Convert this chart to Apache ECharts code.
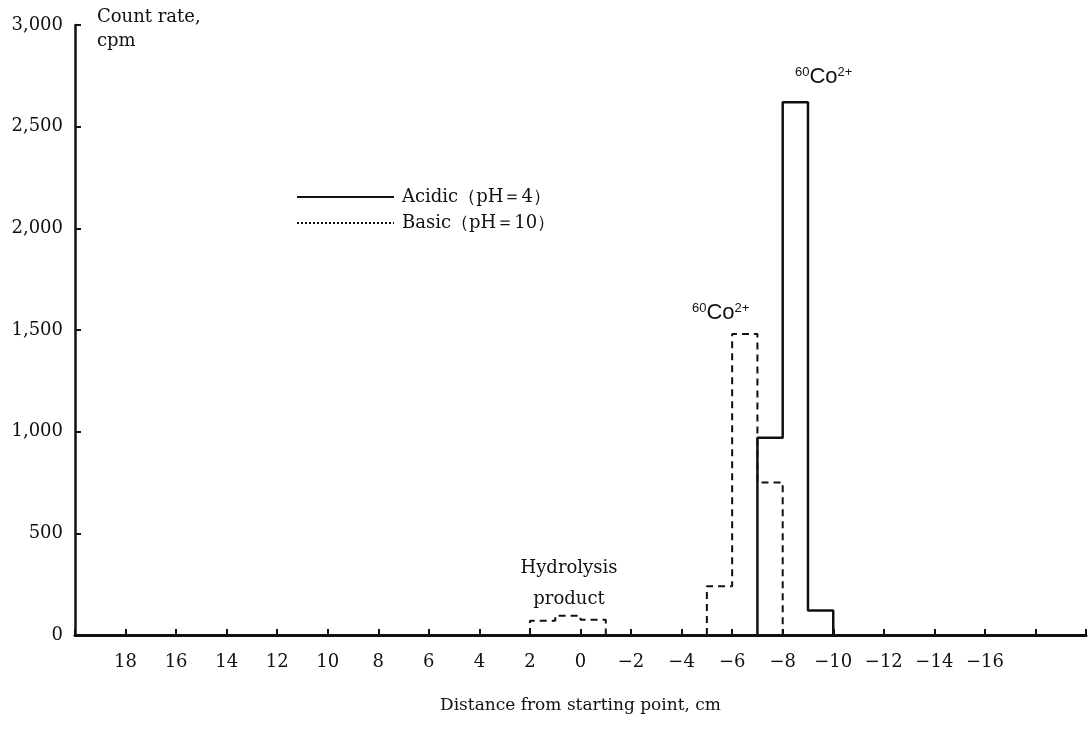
<!DOCTYPE html>
<html>
<head>
<meta charset="utf-8">
<script src="https://cdn.jsdelivr.net/npm/echarts@6/dist/echarts.min.js"></script>
<style>html,body{margin:0;padding:0;background:#fff}#c{width:1089px;height:743px}</style>
</head>
<body>
<div id="c"></div>
<script>
// Data: histogram bins (distance edges in cm, count rate in cpm)
const acidicEdges = [-7, -8, -9, -10];
const acidicValues = [970, 2620, 120];
const basicHydEdges = [2, 1, 0, -1];
const basicHydValues = [70, 95, 75];
const basicMainEdges = [-5, -6, -7, -8];
const basicMainValues = [240, 1480, 750];
const yTicks = [0, 500, 1000, 1500, 2000, 2500, 3000];
const seriesNames = ['Acidic（pH＝4）', 'Basic（pH＝10）'];

function stepPoints(edges, values) {
  const pts = [[edges[0], 0]];
  for (let i = 0; i < values.length; i++) {
    pts.push([edges[i], values[i]]);
    pts.push([edges[i + 1], values[i]]);
  }
  pts.push([edges[edges.length - 1], 0]);
  return pts;
}
const acidicData = stepPoints(acidicEdges, acidicValues);
const basicData = stepPoints(basicHydEdges, basicHydValues)
  .concat([[null, null]])
  .concat(stepPoints(basicMainEdges, basicMainValues));

const serif = 'DejaVu Serif';
const coRich = {
  s: { fontSize: 13, fontFamily: 'Liberation Sans', verticalAlign: 'top', fill: '#111' },
  c: { fontSize: 22, fontFamily: 'Liberation Sans', fill: '#111' }
};
const chart = echarts.init(document.getElementById('c'));
chart.setOption({
  backgroundColor: '#fff',
  animation: false,
  grid: { left: 75, top: 25, width: 1024, bottom: 108 },
  xAxis: {
    type: 'value', inverse: true, min: -20, max: 20, interval: 2,
    axisLine: { show: true, onZero: false, lineStyle: { color: '#111', width: 3 } },
    axisTick: { show: true, inside: true, length: 6, lineStyle: { color: '#111', width: 2 } },
    splitLine: { show: false },
    axisLabel: {
      margin: 18, color: '#111', fontFamily: serif, fontSize: 18,
      formatter: v => (Math.abs(v) === 20 || v === -18) ? '' : (v < 0 ? '−' + Math.abs(v) : String(v))
    },
    name: 'Distance from starting point, cm', nameLocation: 'middle', nameGap: 62,
    nameTextStyle: { color: '#111', fontFamily: serif, fontSize: 17 }
  },
  yAxis: {
    type: 'value', min: 0, max: 3000, interval: 500,
    axisLine: { show: true, onZero: false, lineStyle: { color: '#111', width: 2.5 } },
    axisTick: { show: true, inside: true, length: 6, lineStyle: { color: '#111', width: 2 } },
    splitLine: { show: false },
    axisLabel: {
      margin: 12, color: '#111', fontFamily: serif, fontSize: 18,
      formatter: v => v.toLocaleString('en-US')
    }
  },
  legend: {
    left: 291, top: 183, orient: 'vertical', itemWidth: 97, itemHeight: 14, itemGap: 8,
    textStyle: { color: '#111', fontFamily: serif, fontSize: 18, padding: [0, 0, 0, 3] },
    itemStyle: { opacity: 0, borderWidth: 0 },
    data: [
      { name: seriesNames[0], lineStyle: { type: 'solid', width: 2 } },
      { name: seriesNames[1], lineStyle: { type: 'dotted', width: 2 } }
    ]
  },
  series: [
    {
      name: seriesNames[0], type: 'line', data: acidicData, showSymbol: false, symbol: 'none',
      lineStyle: { color: '#111', width: 2.5 }, itemStyle: { color: '#111' }, z: 3
    },
    {
      name: seriesNames[1], type: 'line', data: basicData, showSymbol: false, symbol: 'none',
      connectNulls: false,
      lineStyle: { color: '#111', width: 2, type: [7, 5] }, itemStyle: { color: '#111' }, z: 2
    }
  ],
  graphic: [
    { type: 'text', left: 97, top: 5, style: { text: 'Count rate,\ncpm', fill: '#111', font: '18px "DejaVu Serif"', lineHeight: 24 } },
    { type: 'text', x: 569, y: 553, style: { text: 'Hydrolysis\nproduct', fill: '#111', font: '18px "DejaVu Serif"', lineHeight: 31, align: 'center' } },
    { type: 'text', left: 795, top: 66, style: { text: '{s|60}{c|Co}{s|2+}', rich: coRich } },
    { type: 'text', left: 692, top: 302, style: { text: '{s|60}{c|Co}{s|2+}', rich: coRich } }
  ]
});
</script>
</body>
</html>
